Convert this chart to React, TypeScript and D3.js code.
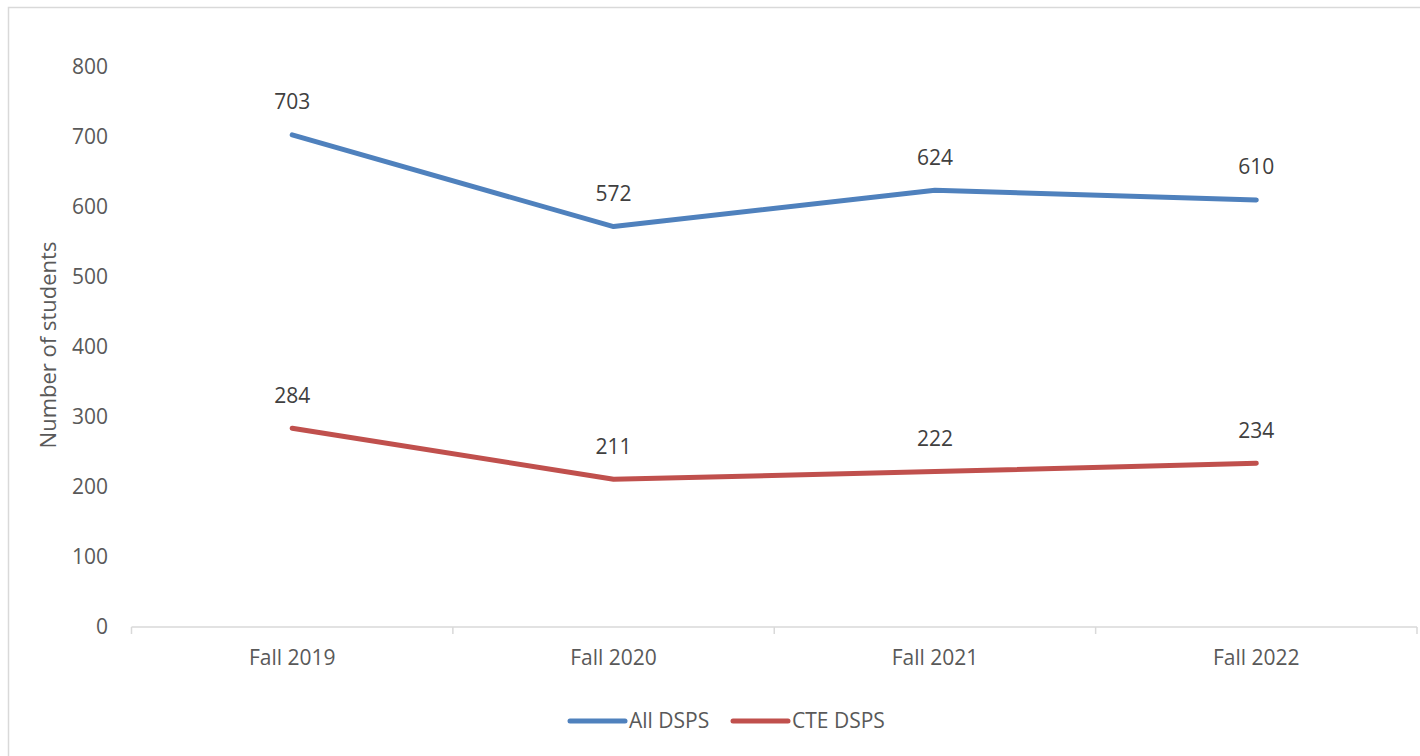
import React, { useEffect, useRef } from 'react';
import * as d3 from 'd3';

const categories = ['Fall 2019', 'Fall 2020', 'Fall 2021', 'Fall 2022'];
const allDsps = [703, 572, 624, 610];
const cteDsps = [284, 211, 222, 234];
const yTicks = [0, 100, 200, 300, 400, 500, 600, 700, 800];
const seriesNames = ['All DSPS', 'CTE DSPS'];
const seriesColors = ['#4f81bd', '#c0504d'];

const W = 1420;
const H = 756;
const FONT = '"Open Sans", "Noto Sans", sans-serif';

const App = () => {
  const ref = useRef<SVGSVGElement>(null);

  useEffect(() => {
    const svg = d3.select(ref.current);
    svg.selectAll('*').remove();

    // outer frame
    svg.append('rect')
      .attr('x', 8.5).attr('y', 7.5)
      .attr('width', W + 20).attr('height', H + 20)
      .attr('fill', 'white')
      .attr('stroke', '#d9d9d9')
      .attr('stroke-width', 1.5);

    const x = d3.scaleBand().domain(categories).range([131.5, 1417]);
    const y = d3.scaleLinear().domain([0, 800]).range([627, 67]);
    const cx = (c: string) => (x(c) as number) + x.bandwidth() / 2;

    // y tick labels
    svg.append('g')
      .selectAll('text')
      .data(yTicks)
      .enter()
      .append('text')
      .attr('x', 108)
      .attr('y', d => y(d))
      .attr('dy', '0.35em')
      .attr('text-anchor', 'end')
      .style('font-family', FONT)
      .style('font-size', '21px')
      .style('fill', '#595959')
      .text(d => d);

    // x axis
    const xAxis = svg.append('g').attr('transform', 'translate(0,627)');
    xAxis.append('line')
      .attr('x1', 131.5).attr('x2', 1417)
      .attr('stroke', '#d9d9d9').attr('stroke-width', 1.5);
    const bounds = [...categories.map(c => x(c) as number), 1417];
    xAxis.selectAll('.tick')
      .data(bounds)
      .enter()
      .append('line')
      .attr('x1', d => d).attr('x2', d => d)
      .attr('y1', 0).attr('y2', 7)
      .attr('stroke', '#d9d9d9').attr('stroke-width', 1.5);
    xAxis.selectAll('text')
      .data(categories)
      .enter()
      .append('text')
      .attr('x', d => cx(d))
      .attr('y', 31)
      .attr('dy', '0.35em')
      .attr('text-anchor', 'middle')
      .style('font-family', FONT)
      .style('font-size', '21px')
      .style('fill', '#595959')
      .text(d => d);

    // y axis title
    svg.append('text')
      .attr('transform', 'translate(48,345) rotate(-90)')
      .attr('dy', '0.35em')
      .attr('text-anchor', 'middle')
      .style('font-family', FONT)
      .style('font-size', '22px')
      .style('fill', '#595959')
      .text('Number of students');

    const line = d3.line<number>()
      .x((_, i) => cx(categories[i]))
      .y(d => y(d));

    [allDsps, cteDsps].forEach((values, si) => {
      svg.append('path')
        .datum(values)
        .attr('d', line)
        .attr('fill', 'none')
        .attr('stroke', seriesColors[si])
        .attr('stroke-width', 5)
        .attr('stroke-linecap', 'round')
        .attr('stroke-linejoin', 'round');

      svg.append('g')
        .selectAll('text')
        .data(values)
        .enter()
        .append('text')
        .attr('x', (_, i) => cx(categories[i]))
        .attr('y', d => y(d) - 33)
        .attr('dy', '0.35em')
        .attr('text-anchor', 'middle')
        .style('font-family', FONT)
        .style('font-size', '21px')
        .style('fill', '#404040')
        .text(d => d);
    });

    // legend
    const legendX = [570, 733];
    seriesNames.forEach((name, i) => {
      const g = svg.append('g').attr('transform', `translate(${legendX[i]},721)`);
      g.append('line')
        .attr('x1', 0).attr('x2', 55)
        .attr('stroke', seriesColors[i])
        .attr('stroke-width', 5)
        .attr('stroke-linecap', 'round');
      g.append('text')
        .attr('x', 59)
        .attr('dy', '0.35em')
        .style('font-family', FONT)
        .style('font-size', '21px')
        .style('fill', '#595959')
        .text(name);
    });
  }, []);

  return (
    <svg
      ref={ref}
      width={W}
      height={H}
      style={{ position: 'absolute', left: 0, top: 0, background: 'white' }}
    />
  );
};

export default App;
